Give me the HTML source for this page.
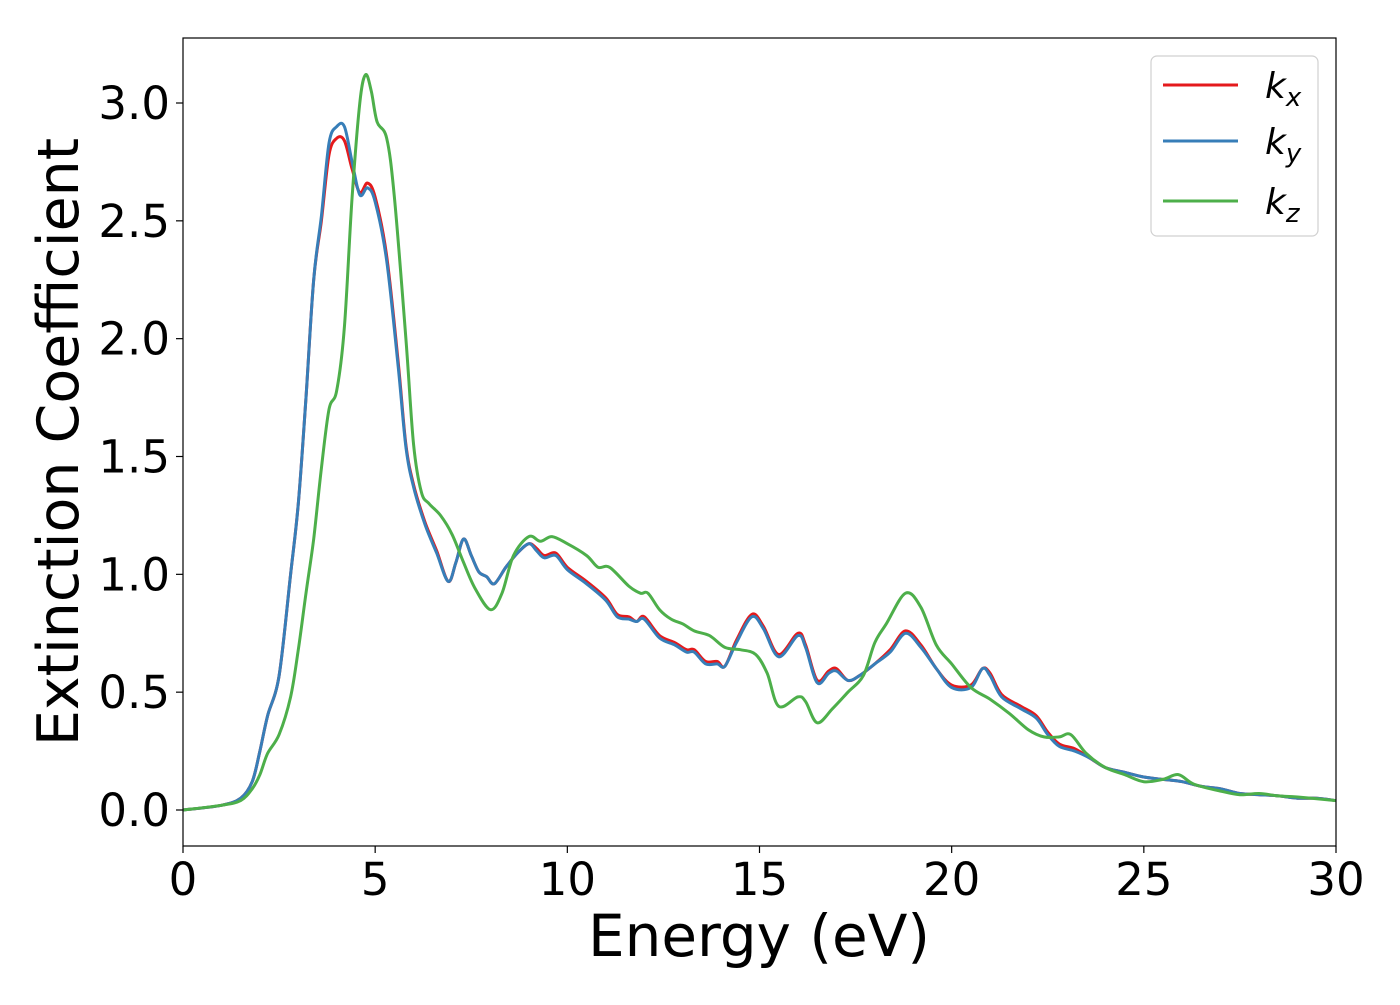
<!DOCTYPE html>
<html><head><meta charset="utf-8"><style>
html,body{margin:0;padding:0;background:#fff;}
svg text{font-family:"DejaVu Sans","Liberation Sans",sans-serif;fill:#000;}
</style></head><body>
<svg id="chart" width="1400" height="1000" xmlns="http://www.w3.org/2000/svg">
<rect width="1400" height="1000" fill="#fff"/>
<g id="series"></g>
<rect x="183" y="38" width="1153" height="808" fill="none" stroke="#000" stroke-width="1.2"/>
<g id="xticks"></g>
<g id="yticks"></g>
<text x="759" y="956" font-size="58" text-anchor="middle">Energy (eV)</text>
<text transform="translate(78,442) rotate(-90)" font-size="57" text-anchor="middle">Extinction Coefficient</text>
<g>
<rect x="1151" y="56" width="167" height="180" rx="6" fill="#fff" stroke="#d0d0d0" stroke-width="1.2"/>
<line x1="1163" y1="85" x2="1238" y2="85" stroke="#e41a1c" stroke-width="3"/>
<line x1="1163" y1="141" x2="1238" y2="141" stroke="#377eb8" stroke-width="3"/>
<line x1="1163" y1="201" x2="1238" y2="201" stroke="#4daf4a" stroke-width="3"/>
<text x="1265" y="98" font-size="36" font-style="italic">k<tspan font-size="26" dy="8">x</tspan></text>
<text x="1265" y="154" font-size="36" font-style="italic">k<tspan font-size="26" dy="8">y</tspan></text>
<text x="1265" y="214" font-size="36" font-style="italic">k<tspan font-size="26" dy="8">z</tspan></text>
</g>
</svg>
<script>
const xTicks=[0,5,10,15,20,25,30];
const yTicks=[0.0,0.5,1.0,1.5,2.0,2.5,3.0];
const eKxy=[0,1,1.5,1.8,2.0,2.2,2.5,2.8,3.0,3.2,3.4,3.6,3.8,4.0,4.2,4.4,4.6,4.8,5.0,5.3,5.6,5.8,6.0,6.3,6.6,6.9,7.1,7.3,7.5,7.7,7.9,8.1,8.4,8.7,9.0,9.2,9.4,9.7,10.0,10.5,11.0,11.3,11.6,11.8,12.0,12.4,12.8,13.1,13.3,13.6,13.9,14.1,14.4,14.8,15.1,15.5,16.0,16.2,16.5,16.8,17.0,17.3,17.6,18.0,18.4,18.8,19.2,19.6,20.0,20.5,20.8,21.0,21.3,21.8,22.2,22.5,22.8,23.2,23.6,24,24.5,25,25.5,26,26.5,27,27.5,28,28.5,29,29.5,30];
const kx=[0,0.02,0.05,0.12,0.25,0.40,0.57,1.0,1.3,1.75,2.25,2.5,2.78,2.85,2.84,2.72,2.62,2.66,2.60,2.35,1.9,1.55,1.38,1.22,1.1,0.97,1.05,1.15,1.08,1.01,0.99,0.96,1.03,1.09,1.13,1.11,1.08,1.09,1.03,0.97,0.90,0.83,0.82,0.80,0.82,0.74,0.71,0.68,0.68,0.63,0.63,0.61,0.72,0.83,0.78,0.66,0.75,0.70,0.55,0.59,0.60,0.55,0.57,0.62,0.68,0.76,0.70,0.60,0.53,0.53,0.60,0.58,0.49,0.44,0.40,0.33,0.28,0.26,0.22,0.18,0.16,0.14,0.13,0.12,0.10,0.09,0.07,0.065,0.06,0.05,0.05,0.04];
const ky=[0,0.02,0.05,0.12,0.25,0.40,0.57,1.0,1.3,1.75,2.25,2.52,2.83,2.90,2.90,2.75,2.61,2.64,2.58,2.33,1.88,1.54,1.37,1.21,1.09,0.97,1.05,1.15,1.08,1.01,0.99,0.96,1.03,1.09,1.13,1.10,1.07,1.08,1.02,0.96,0.89,0.82,0.81,0.80,0.81,0.73,0.70,0.67,0.67,0.62,0.62,0.61,0.71,0.82,0.77,0.65,0.74,0.69,0.54,0.58,0.59,0.55,0.57,0.62,0.67,0.75,0.69,0.60,0.52,0.52,0.60,0.57,0.48,0.43,0.39,0.32,0.27,0.25,0.22,0.18,0.16,0.14,0.13,0.12,0.10,0.09,0.07,0.065,0.06,0.05,0.05,0.04];
const eKz=[0,1,1.5,1.8,2.0,2.2,2.5,2.8,3.0,3.2,3.4,3.6,3.8,4.0,4.2,4.4,4.6,4.75,4.9,5.05,5.3,5.5,5.8,6.0,6.2,6.4,6.7,7.0,7.3,7.6,8.0,8.3,8.6,9.0,9.3,9.6,10.0,10.5,10.8,11.1,11.6,11.9,12.1,12.4,12.7,13.0,13.3,13.7,14.1,14.5,14.9,15.2,15.5,16.0,16.2,16.5,16.9,17.3,17.7,18.0,18.3,18.8,19.2,19.6,20.0,20.5,21.0,21.5,22.0,22.4,22.8,23.1,23.5,24,24.5,25,25.5,25.9,26.3,27,27.5,28,28.5,29,30];
const kz=[0,0.02,0.04,0.09,0.15,0.24,0.32,0.48,0.68,0.92,1.15,1.45,1.70,1.78,2.05,2.6,3.0,3.12,3.05,2.92,2.85,2.6,2.0,1.55,1.35,1.3,1.25,1.17,1.05,0.94,0.85,0.92,1.08,1.16,1.14,1.16,1.13,1.08,1.03,1.03,0.95,0.92,0.92,0.85,0.81,0.79,0.76,0.74,0.69,0.68,0.66,0.58,0.44,0.48,0.46,0.37,0.43,0.50,0.57,0.71,0.79,0.92,0.86,0.70,0.62,0.52,0.47,0.41,0.34,0.31,0.31,0.32,0.24,0.18,0.15,0.12,0.13,0.15,0.11,0.08,0.065,0.07,0.06,0.055,0.04];

const NS='http://www.w3.org/2000/svg';
const X0=183,X1=1336,Y0=810,Y3=103;
function xs(v){return X0+(v/30)*(X1-X0);}
function ys(v){return Y0-(v/3)*(Y0-Y3);}
function pathD(e,k){
  const p=e.map((v,i)=>[xs(v),ys(k[i])]);
  let d='M'+p[0][0].toFixed(1)+','+p[0][1].toFixed(1);
  for(let i=0;i<p.length-1;i++){
    const a=p[Math.max(0,i-1)],b=p[i],c=p[i+1],n=p[Math.min(p.length-1,i+2)];
    const c1=[b[0]+(c[0]-a[0])/6,b[1]+(c[1]-a[1])/6];
    const c2=[c[0]-(n[0]-b[0])/6,c[1]-(n[1]-b[1])/6];
    d+=' C'+c1.map(v=>v.toFixed(1))+' '+c2.map(v=>v.toFixed(1))+' '+c[0].toFixed(1)+','+c[1].toFixed(1);
  }
  return d;
}
const sg=document.getElementById('series');
[[eKxy,kx,'#e41a1c','series-kx'],[eKxy,ky,'#377eb8','series-ky'],[eKz,kz,'#4daf4a','series-kz']].forEach(s=>{
  const el=document.createElementNS(NS,'path');
  el.setAttribute('d',pathD(s[0],s[1]));
  el.setAttribute('fill','none');
  el.setAttribute('stroke',s[2]);
  el.setAttribute('stroke-width','3');
  
  
  sg.appendChild(el);
});
const xg=document.getElementById('xticks');
xTicks.forEach(t=>{
  const l=document.createElementNS(NS,'line');
  l.setAttribute('x1',xs(t));l.setAttribute('x2',xs(t));l.setAttribute('y1',846);l.setAttribute('y2',853);
  l.setAttribute('stroke','#000');l.setAttribute('stroke-width','1.2');
  
  
  xg.appendChild(l);
  const tx=document.createElementNS(NS,'text');
  tx.setAttribute('x',xs(t));tx.setAttribute('y',895);tx.setAttribute('font-size','45');tx.setAttribute('text-anchor','middle');
  tx.textContent=String(t);
  
  
  xg.appendChild(tx);
});
const yg=document.getElementById('yticks');
yTicks.forEach(t=>{
  const l=document.createElementNS(NS,'line');
  l.setAttribute('x1',176);l.setAttribute('x2',183);l.setAttribute('y1',ys(t));l.setAttribute('y2',ys(t));
  l.setAttribute('stroke','#000');l.setAttribute('stroke-width','1.2');
  
  
  yg.appendChild(l);
  const tx=document.createElementNS(NS,'text');
  tx.setAttribute('x',170);tx.setAttribute('y',ys(t)+16);tx.setAttribute('font-size','45');tx.setAttribute('text-anchor','end');
  tx.textContent=t.toFixed(1);
  
  
  yg.appendChild(tx);
});
</script>
</body></html>
